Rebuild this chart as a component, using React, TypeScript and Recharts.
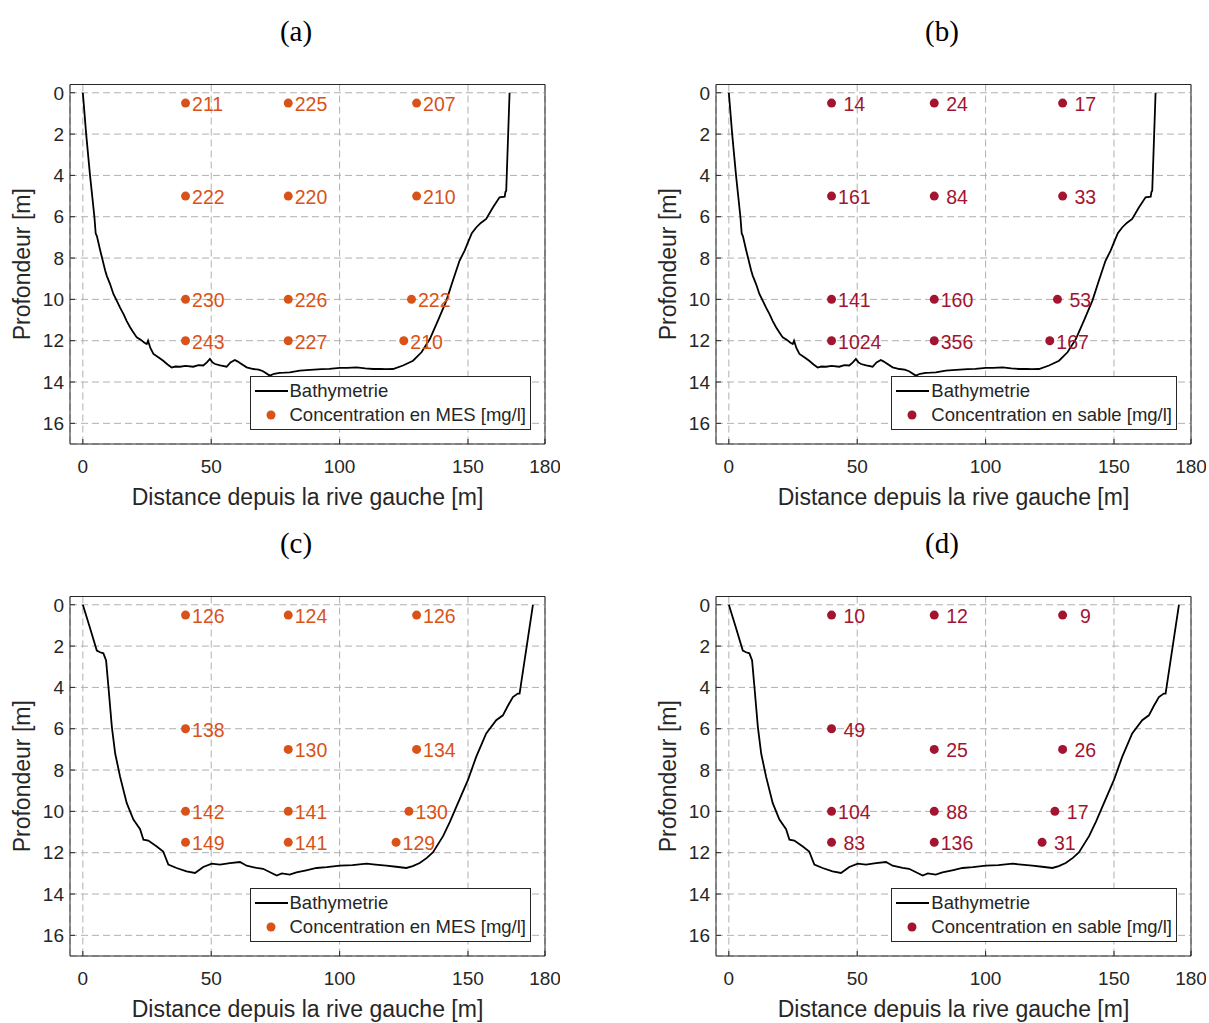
import React from "react";
import { ComposedChart, Line, Scatter, XAxis, YAxis, CartesianGrid, ReferenceArea } from "recharts";

const FONT = "'Liberation Sans', Arial, Helvetica, sans-serif";
const INK = "#262626";

const xTicks = [0, 50, 100, 150, 180];
const yTicks = [0, 2, 4, 6, 8, 10, 12, 14, 16];

// bathymetrie, profil des panneaux (a) et (b)
const bathy1Dist = [
  0, 1.3, 2.8, 4.5, 5.0, 5.5, 6.7, 8.7, 9.3, 10.6, 11.9, 13.2, 14.5, 15.8, 17.1, 18.4,
  19.7, 21.0, 22.5, 24.0, 24.9, 25.4, 26.3, 27.5, 29.4, 31.3, 33, 34.6, 36, 37.8, 40, 43,
  45, 46.9, 48.3, 49.5, 50.5, 51.5, 53.5, 56, 57.5, 59.2, 60.2, 61.2, 63.8, 66.4, 68.5,
  70.2, 72.8, 74.5, 76.7, 78.5, 80.6, 84.5, 87.1, 90, 93, 96, 100.1, 103, 106.6, 110, 113,
  116, 118, 120.8, 124.7, 128.6, 131.9, 135.1, 138.3, 141.6, 144.1, 146.7, 148.7, 150,
  151.5, 153.2, 155, 157.1, 159.7, 162.3, 164.3, 164.6, 164.9, 166.2,
];
const bathy1Depth = [
  0, 2, 4, 6, 6.8, 6.95, 7.6, 8.6, 8.85, 9.26, 9.74, 10.06, 10.4, 10.7, 11.05, 11.35,
  11.6, 11.84, 11.95, 12.1, 12.16, 12.0, 12.35, 12.64, 12.8, 12.97, 13.15, 13.3, 13.25, 13.26, 13.22, 13.26,
  13.18, 13.2, 13.05, 12.88, 13.05, 13.13, 13.2, 13.26, 13.05, 12.93, 13.0, 13.08, 13.29, 13.37, 13.4,
  13.48, 13.69, 13.6, 13.56, 13.55, 13.53, 13.45, 13.42, 13.4, 13.38, 13.36, 13.32, 13.32, 13.29, 13.34, 13.37,
  13.36, 13.38, 13.37, 13.2, 12.97, 12.56, 11.93, 11.03, 10.06, 9.1, 8.13, 7.64, 7.24,
  6.8, 6.52, 6.3, 6.11, 5.55, 5.06, 5.03, 4.8, 4.74, 0,
];

// bathymetrie, profil des panneaux (c) et (d)
const bathy2Dist = [
  0, 2.5, 5.44, 6.7, 8.0, 9.06, 9.97, 11.3, 12.6, 14.5, 17.1, 19.7, 22.3, 23.6, 25.5, 28.8,
  31.3, 33.3, 36.5, 40.4, 43.7, 46.9, 50.2, 53.4, 57.3, 61.2, 63.8, 67.7, 70.2, 75.5, 77.5,
  80.6, 83.2, 87, 91, 95, 100.1, 105, 110.5, 114, 118.2, 122, 126, 128.5, 131.2, 134, 136.4,
  140.3, 143, 145.5, 150, 153.2, 157.1, 161, 163.6, 165.5, 167.5, 169.4, 170.1, 175.3,
];
const bathy2Depth = [
  0, 1.0, 2.22, 2.3, 2.35, 2.7, 3.98, 5.91, 7.2, 8.32, 9.6, 10.4, 10.86, 11.37, 11.41, 11.7,
  11.94, 12.58, 12.74, 12.9, 12.98, 12.69, 12.53, 12.58, 12.5, 12.45, 12.63, 12.74, 12.78, 13.11, 13.0,
  13.06, 12.95, 12.85, 12.74, 12.7, 12.63, 12.6, 12.53, 12.58, 12.63, 12.68, 12.74, 12.65, 12.5, 12.25, 11.98,
  11.2, 10.5, 9.77, 8.48, 7.36, 6.23, 5.59, 5.35, 4.9, 4.47, 4.3, 4.3, 0,
];

// points de prelevement
const pts1Dist = [40, 40, 40, 40, 80, 80, 80, 80, 130, 130, 128, 125];
const pts1Depth = [0.5, 5, 10, 12, 0.5, 5, 10, 12, 0.5, 5, 10, 12];
const mesA = [211, 222, 230, 243, 225, 220, 226, 227, 207, 210, 222, 210];
const sableB = [14, 161, 141, 1024, 24, 84, 160, 356, 17, 33, 53, 167];

const pts2Dist = [40, 40, 40, 40, 80, 80, 80, 80, 130, 130, 127, 122];
const pts2Depth = [0.5, 6, 10, 11.5, 0.5, 7, 10, 11.5, 0.5, 7, 10, 11.5];
const mesC = [126, 138, 142, 149, 124, 130, 141, 141, 126, 134, 130, 129];
const sableD = [10, 49, 104, 83, 12, 25, 88, 136, 9, 26, 17, 31];

const ORANGE = "#D95319";
const RED = "#A2142F";

const toLine = (xs: number[], ys: number[]) => xs.map((x, i) => ({ x, y: ys[i] }));
const toPts = (xs: number[], ys: number[], vs: number[]) =>
  xs.map((x, i) => ({ x, y: ys[i], v: vs[i] }));

const W = 560;
const H = 460;
const M = { top: 34.5, right: 15, bottom: 0, left: 0 };
const Y_W = 70;
const X_H = 66;
const TICK_IN = -5;

function Legend({ color, text }: { color: string; text: string }) {
  const row = { display: "flex", alignItems: "center", height: 24 } as const;
  return (
    <div
      style={{
        position: "absolute",
        right: M.right + 14,
        bottom: M.bottom + X_H + 14,
        background: "#fff",
        border: `1px solid ${INK}`,
        padding: "2px 4px 2px 3px",
        fontSize: 18.5,
        color: INK,
        fontFamily: FONT,
        whiteSpace: "nowrap",
      }}
    >
      <div style={row}>
        <svg width={34} height={24} style={{ marginRight: 2 }}>
          <line x1={1} x2={34} y1={12} y2={12} stroke="#000" strokeWidth={2} />
        </svg>
        Bathymetrie
      </div>
      <div style={row}>
        <svg width={34} height={24} style={{ marginRight: 2 }}>
          <circle cx={17} cy={12} r={4.5} fill={color} />
        </svg>
        {text}
      </div>
    </div>
  );
}

function Panel(props: {
  left: number;
  top: number;
  title: string;
  line: { x: number; y: number }[];
  pts: { x: number; y: number; v: number }[];
  color: string;
  legend: string;
}) {
  const { left, top, title, line, pts, color, legend } = props;
  const tick = { fontSize: 19, fill: INK, fontFamily: FONT };
  const tickLine = { stroke: INK, strokeWidth: 1 };
  return (
    <div style={{ position: "absolute", left, top, width: W, height: H }}>
      <div
        style={{
          position: "absolute",
          left: 236,
          top: -35,
          width: 120,
          textAlign: "center",
          fontFamily: "'Liberation Serif', 'Times New Roman', serif",
          fontSize: 29,
          color: "#000",
        }}
      >
        {title}
      </div>
      <ComposedChart width={W} height={H} margin={M}>
        <CartesianGrid stroke="#b0b0b0" strokeDasharray="7 4" />
        <XAxis
          type="number"
          dataKey="x"
          domain={[-5, 180]}
          ticks={xTicks}
          allowDataOverflow
          height={X_H}
          axisLine={false}
          tickLine={tickLine}
          tickSize={TICK_IN}
          tickMargin={21}
          tick={tick}
          label={({ viewBox }: any) => (
            <text
              x={viewBox.x + viewBox.width / 2}
              y={viewBox.y + 53}
              textAnchor="middle"
              dominantBaseline="central"
              fontSize={23}
              fill={INK}
              fontFamily={FONT}
            >
              Distance depuis la rive gauche [m]
            </text>
          )}
        />
        <XAxis
          xAxisId="top"
          orientation="top"
          type="number"
          dataKey="x"
          domain={[-5, 180]}
          ticks={xTicks}
          allowDataOverflow
          height={0}
          axisLine={false}
          tickLine={tickLine}
          tickSize={TICK_IN}
          tickFormatter={() => ""}
        />
        <YAxis
          type="number"
          dataKey="y"
          domain={[-0.4, 17]}
          reversed
          ticks={yTicks}
          allowDataOverflow
          width={Y_W}
          axisLine={false}
          tickLine={tickLine}
          tickSize={TICK_IN}
          tickMargin={11}
          tick={tick}
          label={({ viewBox }: any) => {
            const cx = 22;
            const cy = viewBox.y + viewBox.height / 2;
            return (
              <text
                x={cx}
                y={cy}
                transform={`rotate(-90 ${cx} ${cy})`}
                textAnchor="middle"
                dominantBaseline="central"
                fontSize={23}
                fill={INK}
                fontFamily={FONT}
              >
                Profondeur [m]
              </text>
            );
          }}
        />
        <YAxis
          yAxisId="right"
          orientation="right"
          type="number"
          dataKey="y"
          domain={[-0.4, 17]}
          reversed
          ticks={yTicks}
          allowDataOverflow
          width={0}
          axisLine={false}
          tickLine={tickLine}
          tickSize={TICK_IN}
          tickFormatter={() => ""}
        />
        <ReferenceArea x1={-5} x2={180} y1={-0.4} y2={17} fill="none" fillOpacity={0} stroke={INK} strokeWidth={1} />
        <Line
          data={line}
          dataKey="y"
          type="linear"
          stroke="#000"
          strokeWidth={1.8}
          dot={false}
          activeDot={false}
          isAnimationActive={false}
        />
        <Scatter
          data={pts}
          dataKey="y"
          isAnimationActive={false}
          shape={(p: any) => (
            <g>
              <circle cx={p.cx} cy={p.cy} r={4.5} fill={color} />
              <text
                x={p.cx + 6.5}
                y={p.cy + 1}
                dominantBaseline="central"
                fontSize={19.5}
                fill={color}
                fontFamily={FONT}
                xmlSpace="preserve"
                style={{ whiteSpace: "pre" }}
              >
                {String(p.payload.v).padStart(3, " ")}
              </text>
            </g>
          )}
        />
      </ComposedChart>
      <Legend color={color} text={legend} />
    </div>
  );
}

export default function App() {
  const line1 = toLine(bathy1Dist, bathy1Depth);
  const line2 = toLine(bathy2Dist, bathy2Depth);
  return (
    <div style={{ position: "absolute", left: 0, top: 0, width: 1209, height: 1023, background: "#fff" }}>
      <Panel left={0} top={50} title="(a)" line={line1} pts={toPts(pts1Dist, pts1Depth, mesA)} color={ORANGE} legend="Concentration en MES [mg/l]" />
      <Panel left={646} top={50} title="(b)" line={line1} pts={toPts(pts1Dist, pts1Depth, sableB)} color={RED} legend="Concentration en sable [mg/l]" />
      <Panel left={0} top={562} title="(c)" line={line2} pts={toPts(pts2Dist, pts2Depth, mesC)} color={ORANGE} legend="Concentration en MES [mg/l]" />
      <Panel left={646} top={562} title="(d)" line={line2} pts={toPts(pts2Dist, pts2Depth, sableD)} color={RED} legend="Concentration en sable [mg/l]" />
    </div>
  );
}
